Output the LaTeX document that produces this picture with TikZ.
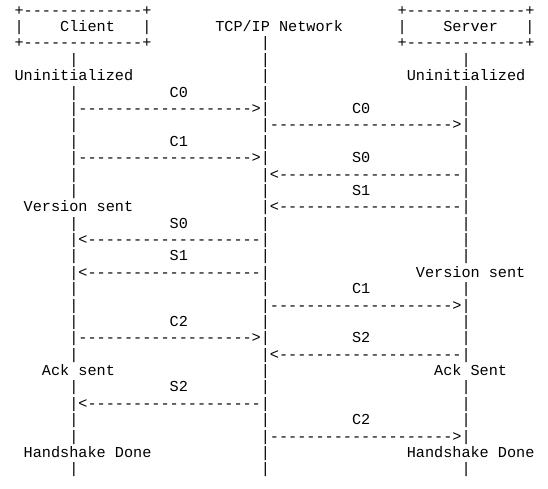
\documentclass[tikz,border=0pt]{standalone}
\usepackage{fontspec}
\setmonofont{Liberation Mono}
\newcommand\cw{9.12}
\newcommand\lh{16.38}
\tikzset{asc/.style={anchor=base west, inner sep=0pt, outer sep=0pt,
  font=\ttfamily\fontsize{15.2}{16.38}\selectfont, text=black}}
\newcommand\ch[3]{\node[asc] (c#1r#2) at ({(5.5+#1*\cw)*1pt},{-(15.2+#2*\lh)*1pt}) {#3};}
\begin{document}
\begin{tikzpicture}
\fill[white] (0,0) rectangle (548pt,-489pt);
\useasboundingbox (0,0) rectangle (548pt,-489pt);
% boxes
\ch{1}{0}{+-------------+}
\ch{43}{0}{+-------------+}
\ch{1}{1}{|}\ch{6}{1}{Client}\ch{15}{1}{|}
\ch{23}{1}{TCP/IP Network}
\ch{43}{1}{|}\ch{48}{1}{Server}\ch{57}{1}{|}
\ch{1}{2}{+-------------+}
\ch{43}{2}{+-------------+}
% life lines
\foreach \r in {3,5,7,8,10,11,13,15,17,18,19,21,23,25,26,28} {\ch{7}{\r}{|}}
\foreach \r in {2,3,4,5,8,11,13,15,17,19,22,23,25,27,28} {\ch{28}{\r}{|}}
\foreach \r in {3,5,6,8,9,11,13,14,15,17,19,20,23,24,25,28} {\ch{50}{\r}{|}}
% states
\ch{1}{4}{Uninitialized}\ch{44}{4}{Uninitialized}
\ch{2}{12}{Version sent}\ch{45}{16}{Version sent}
\ch{4}{22}{Ack sent}\ch{47}{22}{Ack Sent}
\ch{2}{27}{Handshake Done}\ch{44}{27}{Handshake Done}
% left arrows (client <-> network)
\foreach \r in {6,9,20} {\ch{7}{\r}{|------------------->|}}
\foreach \r in {14,16,24} {\ch{7}{\r}{|<-------------------|}}
% right arrows (network <-> server)
\foreach \r in {7,18,26} {\ch{28}{\r}{|-------------------->|}}
\foreach \r in {10,12,21} {\ch{28}{\r}{|<--------------------|}}
% message labels
\ch{18}{5}{C0}\ch{18}{8}{C1}\ch{18}{13}{S0}\ch{18}{15}{S1}\ch{18}{19}{C2}\ch{18}{23}{S2}
\ch{38}{6}{C0}\ch{38}{9}{S0}\ch{38}{11}{S1}\ch{38}{17}{C1}\ch{38}{20}{S2}\ch{38}{25}{C2}
\end{tikzpicture}
\end{document}
